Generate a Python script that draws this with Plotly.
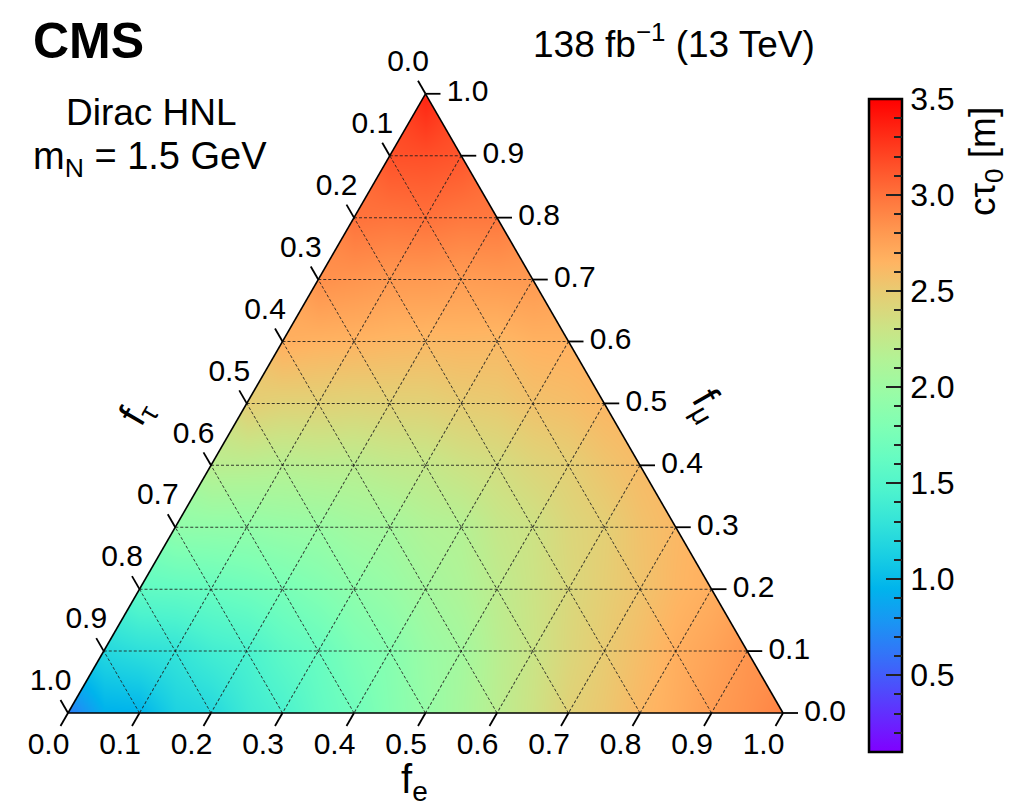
import math
import plotly.graph_objects as go

# ---------------------------------------------------------------------------
# Data: upper limit on c*tau_0 [m] on a 0.1 lattice of the mixing fractions.
# Each row has fixed f_mu; entries run over f_e = 0.0, 0.1, ... (1 - f_mu).
# f_tau = 1 - f_e - f_mu.
# ---------------------------------------------------------------------------
F_STEP = 0.1
F_MU_ROWS = [0.0, 0.1, 0.2, 0.3, 0.4, 0.5, 0.6, 0.7, 0.8, 0.9, 1.0]
CTAU_ROWS = [
    [0.65, 0.95, 1.20, 1.45, 1.70, 1.95, 2.20, 2.45, 2.62, 2.78, 2.92],
    [1.20, 1.30, 1.45, 1.65, 1.85, 2.05, 2.30, 2.50, 2.68, 2.82],
    [1.60, 1.65, 1.75, 1.90, 2.05, 2.22, 2.40, 2.55, 2.68],
    [1.92, 1.93, 1.98, 2.06, 2.16, 2.32, 2.47, 2.62],
    [2.20, 2.18, 2.20, 2.26, 2.36, 2.47, 2.60],
    [2.48, 2.45, 2.45, 2.49, 2.56, 2.63],
    [2.68, 2.65, 2.62, 2.62, 2.67],
    [2.85, 2.80, 2.78, 2.80],
    [3.00, 3.00, 2.97],
    [3.15, 3.13],
    [3.35],
]

AXIS_TICKS = [0.0, 0.1, 0.2, 0.3, 0.4, 0.5, 0.6, 0.7, 0.8, 0.9, 1.0]
AXIS_TICK_TEXT = ["0.0", "0.1", "0.2", "0.3", "0.4", "0.5",
                  "0.6", "0.7", "0.8", "0.9", "1.0"]
GRID_VALUES = [0.1, 0.2, 0.3, 0.4, 0.5, 0.6, 0.7, 0.8, 0.9]

CBAR_MIN, CBAR_MAX = 0.1, 3.5
CBAR_MAJOR = [0.5, 1.0, 1.5, 2.0, 2.5, 3.0, 3.5]
CBAR_MAJOR_TEXT = ["0.5", "1.0", "1.5", "2.0", "2.5", "3.0", "3.5"]
CBAR_MINOR = [0.2, 0.3, 0.4, 0.6, 0.7, 0.8, 0.9, 1.1, 1.2, 1.3, 1.4, 1.6,
              1.7, 1.8, 1.9, 2.1, 2.2, 2.3, 2.4, 2.6, 2.7, 2.8, 2.9, 3.1,
              3.2, 3.3, 3.4]

# ---------------------------------------------------------------------------
# Page geometry (pixels)
# ---------------------------------------------------------------------------
W, H = 1024, 807
FONT = "Liberation Sans, Arial, Helvetica, sans-serif"
TRI_LEFT, TRI_RIGHT, TRI_BOTTOM = 68, 783, 713
SIDE = TRI_RIGHT - TRI_LEFT
TRI_H = SIDE * math.sqrt(3) / 2
TRI_TOP = TRI_BOTTOM - TRI_H
DOM_X = [TRI_LEFT / W, TRI_RIGHT / W]
DOM_Y = [1 - TRI_BOTTOM / H, 1 - TRI_TOP / H]


def px(x):
    return x / W


def py(y):
    return 1 - y / H


def tern_xy(fe, fmu):
    """Planar position of a composition: x along the base, y = f_mu."""
    return fe + 0.5 * fmu, fmu


# matplotlib-style "rainbow" colour map
def rainbow(t):
    r = min(1.0, abs(2 * t - 0.5))
    g = math.sin(math.pi * t)
    b = math.cos(math.pi * t / 2)
    return "rgb(%d,%d,%d)" % (round(255 * r), round(255 * g), round(255 * max(b, 0)))


RAINBOW = [[i / 20, rainbow(i / 20)] for i in range(21)]

# lattice nodes -> planar and ternary coordinates
node_x, node_y, node_z = [], [], []
node_fe, node_fmu, node_ftau = [], [], []
for fmu, row in zip(F_MU_ROWS, CTAU_ROWS):
    for k, val in enumerate(row):
        fe = round(k * F_STEP, 4)
        x, y = tern_xy(fe, fmu)
        node_x.append(round(x, 4))
        node_y.append(round(y, 4))
        node_z.append(val)
        node_fe.append(fe)
        node_fmu.append(fmu)
        node_ftau.append(round(1 - fe - fmu, 4))

fig = go.Figure()

CBAR_POS = dict(
    x=px(869), xanchor="left", xpad=0,
    y=py((99 + 752) / 2), yanchor="middle", ypad=0,
    len=(752 - 99) / H, lenmode="fraction",
    thickness=33, thicknessmode="pixels",
)

# smooth colour field (Plotly fills the lattice gaps and interpolates)
fig.add_trace(go.Heatmap(
    x=node_x, y=node_y, z=node_z,
    zsmooth="best", connectgaps=True,
    colorscale=RAINBOW, zmin=CBAR_MIN, zmax=CBAR_MAX,
    hoverinfo="skip",
    colorbar=dict(
        **CBAR_POS,
        outlinewidth=2.5, outlinecolor="black",
        ticks="inside", ticklen=17, tickwidth=1.5, tickcolor="#222",
        tickmode="array", tickvals=CBAR_MAJOR, ticktext=CBAR_MAJOR_TEXT,
        tickfont=dict(size=32, family=FONT, color="black"),
    ),
))

# white cover around the triangle (below, above, left and right of it)
OUT = 0.1
for mx, my in [
    ([-OUT, 1 + OUT, 1 + OUT, -OUT, -OUT], [-OUT, -OUT, 0, 0, -OUT]),
    ([-OUT, 1 + OUT, 1 + OUT, -OUT, -OUT], [1, 1, 1 + OUT, 1 + OUT, 1]),
    ([-OUT, 0, 0.5, 0.5, -OUT, -OUT], [0, 0, 1, 1 + OUT, 1 + OUT, 0]),
    ([1 + OUT, 1, 0.5, 0.5, 1 + OUT, 1 + OUT], [0, 0, 1, 1 + OUT, 1 + OUT, 0]),
]:
    fig.add_trace(go.Scatter(
        x=mx, y=my, mode="lines", fill="toself", fillcolor="white",
        line=dict(width=0, color="white"), hoverinfo="skip", showlegend=False))

# minor ticks of the colour bar (transparent bar drawn on top)
fig.add_trace(go.Scatter(
    x=[None], y=[None], mode="markers", showlegend=False, hoverinfo="skip",
    marker=dict(
        color=[CBAR_MIN], cmin=CBAR_MIN, cmax=CBAR_MAX,
        colorscale=[[0, "rgba(0,0,0,0)"], [1, "rgba(0,0,0,0)"]],
        showscale=True,
        colorbar=dict(
            **CBAR_POS, outlinewidth=0,
            ticks="inside", ticklen=8, tickwidth=1.5, tickcolor="#222",
            tickmode="array", tickvals=CBAR_MINOR, showticklabels=False,
        ),
    ),
))

# ---------------------------------------------------------------------------
# Ternary ticks and labels
#   left edge: f_tau (ticks along constant f_tau)
#   bottom edge: f_e (ticks along constant f_e)
#   right edge: f_mu (ticks along constant f_mu)
# ---------------------------------------------------------------------------
TICK_LEN = 15 / SIDE
LAB_LEFT = 35 / SIDE
LAB_BOTTOM = 39 / SIDE
LAB_RIGHT = 42 / SIDE


def edge_point(side, v, d):
    if side == "left":      # f_tau = v, f_e = -d
        return tern_xy(-d, 1 - v + d)
    if side == "bottom":    # f_e = v, f_mu = -d
        return tern_xy(v, -d)
    return tern_xy(1 - v + d, v)   # f_mu = v, f_tau = -d


tick_x, tick_y = [], []
lab_x, lab_y, lab_t = [], [], []
for v, txt in zip(AXIS_TICKS, AXIS_TICK_TEXT):
    for side, dl in [("left", LAB_LEFT), ("bottom", LAB_BOTTOM), ("right", LAB_RIGHT)]:
        x0, y0 = edge_point(side, v, 0)
        x1, y1 = edge_point(side, v, TICK_LEN)
        tick_x += [x0, x1, None]
        tick_y += [y0, y1, None]
        xl, yl = edge_point(side, v, dl)
        lab_x.append(xl)
        lab_y.append(yl)
        lab_t.append(txt)

fig.add_trace(go.Scatter(
    x=tick_x, y=tick_y, mode="lines", line=dict(color="black", width=1.8),
    hoverinfo="skip", showlegend=False))
fig.add_trace(go.Scatter(
    x=lab_x, y=lab_y, text=lab_t, mode="text", textposition="middle center",
    textfont=dict(size=30, family=FONT, color="black"),
    hoverinfo="skip", showlegend=False))

# lattice nodes on the ternary subplot (hover readout only)
fig.add_trace(go.Scatterternary(
    a=node_fmu, b=node_ftau, c=node_fe, mode="markers",
    marker=dict(size=8, opacity=0),
    customdata=node_z,
    hovertemplate="f<sub>e</sub>=%{c:.1f}, f<sub>\u03bc</sub>=%{a:.1f}, "
                  "f<sub>\u03c4</sub>=%{b:.1f}<br>c\u03c4<sub>0</sub> = %{customdata:.2f} m"
                  "<extra></extra>",
    showlegend=False))

axis_style = dict(
    tickmode="array", tickvals=GRID_VALUES, showticklabels=False, ticks="",
    showline=True, linecolor="black", linewidth=1.6,
    showgrid=True, gridcolor="rgba(30,30,30,0.85)", gridwidth=0.8,
    griddash="3px,2px", title=dict(text=""), min=0, layer="above traces",
)

annotations = [
    dict(text="<b>CMS</b>", x=px(32), y=py(41), xanchor="left", yanchor="middle",
         font=dict(size=50, family=FONT, color="black")),
    dict(text="138 fb<sup>\u22121</sup> (13 TeV)", x=px(674), y=py(42),
         xanchor="center", yanchor="middle",
         font=dict(size=37, family=FONT, color="black")),
    dict(text="Dirac HNL", x=px(151), y=py(112), xanchor="center", yanchor="middle",
         font=dict(size=37, family=FONT, color="black")),
    dict(text="m<sub>N</sub> = 1.5 GeV", x=px(150), y=py(159), xanchor="center",
         yanchor="middle", font=dict(size=38, family=FONT, color="black")),
    dict(text="f<sub>e</sub>", x=px(414), y=py(782), xanchor="center", yanchor="middle",
         font=dict(size=40, family=FONT, color="black")),
    dict(text="f<sub>\u03c4</sub>", x=px(137), y=py(413), xanchor="center",
         yanchor="middle", textangle=-60,
         font=dict(size=40, family=FONT, color="black")),
    dict(text="f<sub>\u03bc</sub>", x=px(707), y=py(405), xanchor="center",
         yanchor="middle", textangle=60,
         font=dict(size=40, family=FONT, color="black")),
    dict(text="c\u03c4<sub>0</sub> [m]", x=px(985), y=py(162), xanchor="center",
         yanchor="middle", textangle=-90,
         font=dict(size=37, family=FONT, color="black")),
]
for an in annotations:
    an.update(xref="paper", yref="paper", showarrow=False, borderpad=0)

fig.update_layout(
    width=W, height=H,
    margin=dict(l=0, r=0, t=0, b=0),
    paper_bgcolor="white", plot_bgcolor="rgba(0,0,0,0)",
    font=dict(family=FONT, color="black"),
    showlegend=False,
    # planar axes spanning the whole page, scaled so that the triangle
    # coincides with the ternary subplot
    xaxis=dict(domain=[0, 1], range=[-TRI_LEFT / SIDE, (W - TRI_LEFT) / SIDE],
               visible=False, fixedrange=True),
    yaxis=dict(domain=[0, 1], range=[(TRI_BOTTOM - H) / TRI_H, TRI_BOTTOM / TRI_H],
               visible=False, fixedrange=True),
    ternary=dict(
        domain=dict(x=DOM_X, y=DOM_Y), sum=1, bgcolor="rgba(0,0,0,0)",
        aaxis=axis_style, baxis=axis_style, caxis=axis_style,
    ),
    annotations=annotations,
)

fig.write_html("out.html")
